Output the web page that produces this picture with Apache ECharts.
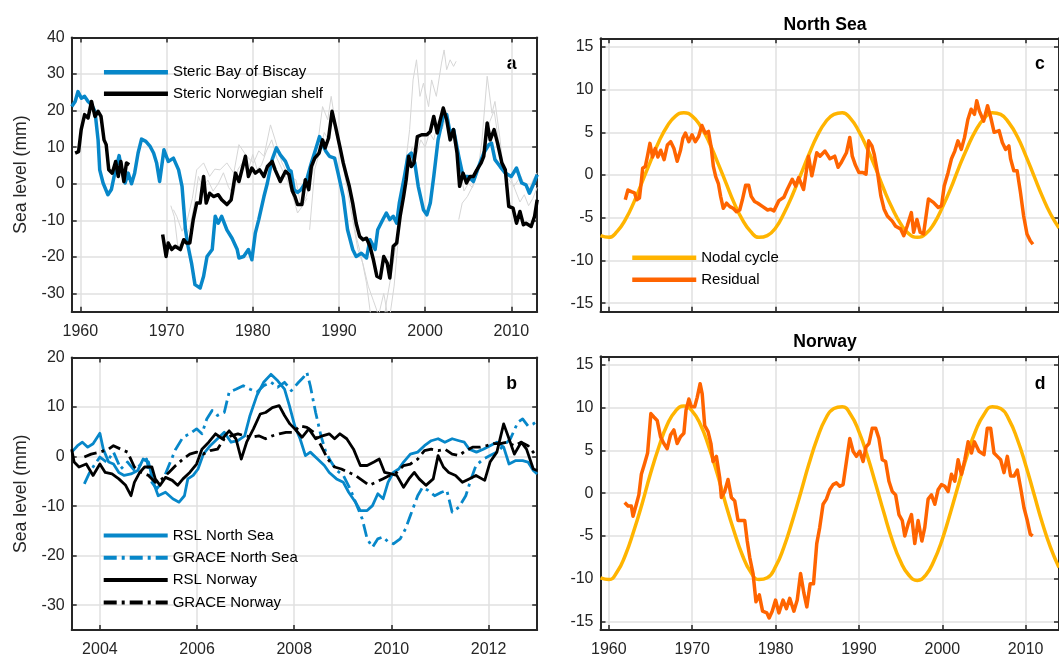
<!DOCTYPE html>
<html>
<head>
<meta charset="utf-8">
<script src="https://cdn.jsdelivr.net/npm/echarts@6/dist/echarts.min.js"></script>
<style>
  html, body { margin: 0; padding: 0; background: #fff; }
  #chart { width: 1059px; height: 658px; }
</style>
</head>
<body>
<div id="chart"></div>
<script>
// ---- data: panel a (steric sea level, mm) ----
var bayOfBiscay = [[1959.0,21.1],[1959.4,22.5],[1959.73,25.2],[1960.12,23.4],[1960.5,23.9],[1960.9,22.5],[1961.3,21.6],[1961.7,19.8],[1962.06,12.0],[1962.25,3.8],[1962.64,0.2],[1963.2,-3.0],[1963.6,-1.6],[1964.0,2.9],[1964.5,7.7],[1964.8,3.8],[1965.2,0.2],[1965.55,2.9],[1965.94,0.0],[1966.3,2.9],[1966.7,8.4],[1967.1,12.2],[1967.6,11.6],[1968.1,10.2],[1968.5,8.4],[1968.85,5.7],[1969.2,0.6],[1969.7,9.3],[1970.2,6.1],[1970.8,7.0],[1971.4,3.8],[1971.8,-0.7],[1972.2,-12.6],[1972.5,-17.1],[1972.9,-21.7],[1973.3,-27.6],[1973.9,-28.5],[1974.3,-25.3],[1974.7,-19.9],[1975.3,-18.0],[1975.65,-8.9],[1976.0,-10.8],[1976.4,-8.9],[1977.0,-12.6],[1977.6,-14.9],[1978.2,-18.0],[1978.4,-20.3],[1978.95,-19.9],[1979.5,-18.0],[1979.9,-20.8],[1980.3,-13.5],[1980.7,-9.8],[1981.3,-3.5],[1981.7,0.2],[1982.25,6.6],[1982.75,9.8],[1983.2,7.9],[1983.8,6.1],[1984.2,3.8],[1984.45,3.4],[1984.8,-1.6],[1985.2,-2.4],[1985.6,-1.6],[1986.2,0.6],[1986.8,5.7],[1987.4,10.2],[1987.75,12.9],[1988.1,10.7],[1988.5,8.8],[1988.9,7.5],[1989.5,7.0],[1989.9,2.9],[1990.5,-3.5],[1991.0,-12.6],[1991.6,-18.0],[1992.0,-19.9],[1992.6,-19.0],[1993.2,-20.3],[1993.6,-15.3],[1994.2,-18.0],[1994.5,-12.6],[1995.1,-9.8],[1995.5,-8.0],[1995.9,-9.8],[1996.3,-8.9],[1996.7,-10.8],[1997.0,-5.3],[1997.6,2.0],[1998.0,7.5],[1998.4,8.4],[1998.8,5.7],[1999.2,-0.7],[1999.8,-7.1],[2000.2,-8.5],[2000.6,-5.3],[2001.0,2.0],[2001.5,12.0],[2002.1,18.4],[2002.5,18.9],[2002.9,13.9],[2003.3,14.8],[2003.9,7.5],[2004.4,2.0],[2005.0,2.0],[2005.6,0.6],[2006.2,4.7],[2006.8,8.4],[2007.4,10.7],[2007.7,11.1],[2008.1,6.6],[2008.7,4.7],[2009.3,2.9],[2010.0,2.0],[2010.6,4.3],[2011.2,0.2],[2011.7,-0.3],[2012.1,-2.6],[2012.5,-0.5],[2013.0,2.5]];
var norwegianShelf = [[1959.4,8.4],[1959.8,8.8],[1960.1,14.8],[1960.5,18.9],[1960.9,18.0],[1961.3,22.5],[1961.7,18.4],[1962.06,19.8],[1962.4,18.4],[1962.75,12.0],[1963.0,10.7],[1963.3,3.8],[1963.7,2.9],[1964.1,6.1],[1964.4,2.0],[1964.7,6.1],[1965.05,0.6],[1965.35,5.7],[1965.67,5.2],[1967.5,null],[1969.55,-13.9],[1969.95,-19.9],[1970.2,-16.2],[1970.6,-18.0],[1971.0,-17.1],[1971.6,-18.0],[1972.0,-15.3],[1972.3,-16.2],[1972.7,-16.2],[1973.1,-9.8],[1973.5,-5.3],[1973.9,-5.3],[1974.3,2.0],[1974.6,-5.3],[1975.0,-2.6],[1975.45,-3.5],[1976.0,-3.0],[1976.4,-4.4],[1977.0,-5.7],[1977.5,-4.4],[1978.0,2.9],[1978.4,0.6],[1978.75,3.8],[1979.15,7.5],[1979.5,2.0],[1979.9,4.3],[1980.3,2.9],[1980.8,3.8],[1981.3,2.0],[1981.7,4.7],[1982.25,6.1],[1982.6,3.8],[1983.2,0.6],[1983.8,3.4],[1984.2,2.5],[1984.6,-2.0],[1984.9,-3.5],[1985.2,-5.7],[1985.7,-5.7],[1986.1,1.1],[1986.5,-1.6],[1986.8,4.7],[1987.2,7.0],[1987.7,8.4],[1988.1,12.0],[1988.4,9.8],[1988.8,12.5],[1989.2,19.8],[1989.6,15.7],[1990.1,10.2],[1990.5,5.7],[1990.9,2.0],[1991.2,-0.7],[1991.6,-5.3],[1992.0,-10.8],[1992.4,-14.4],[1992.8,-15.3],[1993.2,-14.9],[1993.6,-17.1],[1994.0,-20.8],[1994.4,-25.3],[1994.8,-25.8],[1995.2,-19.9],[1995.6,-21.7],[1995.9,-25.8],[1996.3,-17.1],[1996.7,-16.2],[1997.1,-8.9],[1997.5,-3.5],[1997.8,1.1],[1998.1,7.5],[1998.4,4.7],[1998.7,5.7],[1999.1,12.9],[1999.6,13.4],[2000.2,13.4],[2000.6,14.3],[2001.0,18.4],[2001.4,13.9],[2001.7,17.0],[2002.1,20.7],[2002.5,17.5],[2002.9,12.0],[2003.3,14.8],[2003.7,8.4],[2004.0,-0.7],[2004.4,2.9],[2004.8,0.2],[2005.2,2.0],[2005.6,2.0],[2006.0,3.8],[2006.5,5.7],[2006.8,7.5],[2007.2,16.6],[2007.55,12.0],[2008.0,14.8],[2008.4,11.1],[2008.9,5.7],[2009.3,3.8],[2009.7,-6.2],[2010.2,-6.7],[2010.6,-10.8],[2011.0,-7.6],[2011.4,-11.2],[2011.7,-10.8],[2012.3,-11.7],[2012.7,-8.9],[2013.0,-4.4]];
// thin grey lines behind panel a (individual steric series)
var greyA = [[1970.8,-7.1],[1971.2,-9],[1971.8,-13],[1972.4,-10],[1973.0,-4],[1973.5,3.8],[1974.3,5.7],[1975.0,2.0],[1975.6,4],[1976.2,3.8],[1977.0,5.7],[1977.8,2.9],[1978.4,10.7],[1979.3,7.5],[1980.1,5.7],[1980.7,9],[1981.3,7.5],[1982.06,16.1],[1982.6,12.0],[1983.4,5.7],[1984.2,2.0],[1985.0,1.1],[1985.6,-6.2],[1986.2,-3.5],[1987.0,3.8],[1987.7,13.9],[1988.1,21.1],[1988.7,17.5],[1989.1,23.9],[1989.7,14.8],[1990.3,7.5],[1990.9,2.0],[1991.4,-5.3],[1992.0,-14.4],[1992.6,-19.9],[1993.2,-27.2],[1993.6,-34.5],[1994.0,-40],[1994.8,-45],[1995.5,-32.6],[1996.3,-21.7],[1997.1,-8.9],[1997.6,2.9],[1998.2,14.8],[1998.6,28.4],[1999.0,33.9],[1999.4,23.9],[1999.8,27.5],[2000.4,21.1],[2000.75,28.4],[2001.3,23.9],[2001.9,33.0],[2002.2,36.6],[2002.5,31.2],[2002.9,33.9],[2003.3,32.1],[2003.6,33.5]];
var greyB = [[1986.6,-12.6],[1987.2,4],[1987.8,9],[1988.3,14],[1988.8,12],[1989.3,18],[1989.8,12],[1990.4,6],[1991,-2],[1991.6,-10],[1992.2,-18],[1992.8,-22],[1993.4,-28],[1994,-32],[1994.6,-36],[1995.2,-30],[1995.8,-38],[1996.4,-28],[1997,-12],[1997.5,-2],[1998,5],[1998.5,10],[1999,8],[1999.5,12],[2000,10],[2000.5,14],[2001,12],[2001.5,17],[2002,15],[2002.5,19],[2003,14],[2003.5,10],[2004,5],[2004.5,-2],[2005,0],[2005.5,-1],[2006,3],[2006.5,6],[2007,10],[2007.5,17],[2008,20],[2008.5,12],[2009,5],[2009.5,3],[2010,1],[2010.5,-2],[2011,-5],[2011.5,-3],[2012,-6],[2012.5,-4],[2013,-1]];
var greyC = [[2003.9,-9.8],[2004.3,-5.3],[2004.9,-3.5],[2005.5,-0.7],[2006.1,2.9],[2006.6,12],[2007.2,29.4],[2007.75,19.3],[2008.1,22.5],[2008.7,12],[2009.1,2.9],[2009.7,1.1],[2010.3,-0.7],[2011.1,2],[2011.5,0],[2012,-2],[2012.5,1],[2013,3]];
var greyD = [[1970.5,-6],[1970.9,-9],[1971.3,-17],[1972,-16],[1972.7,-12],[1973.2,-6],[1973.7,2],[1974.2,-1],[1974.8,1],[1975.4,-2],[1976,0],[1976.6,3],[1977.2,-1],[1977.8,-3],[1978.3,4],[1978.9,6],[1979.4,3],[1980,8],[1980.5,4],[1981,5],[1981.6,9],[1982.2,12],[1982.8,7],[1983.4,4],[1984,1],[1984.6,-3],[1985.2,-8],[1985.8,-6],[1986.3,-4]];

// ---- data: panel b (RSL vs GRACE, mm) ----
var rslNorthSea = [[2003.42,0.9],[2003.54,2.2],[2003.64,2.9],[2003.75,1.9],[2003.86,2.6],[2004.0,4.7],[2004.07,1.5],[2004.18,-1.1],[2004.28,-1.5],[2004.39,-3.2],[2004.5,-3.8],[2004.64,-3.5],[2004.78,-2.8],[2004.89,-0.5],[2005.0,-1.1],[2005.1,-5.2],[2005.2,-7.9],[2005.35,-7.2],[2005.5,-8.5],[2005.63,-9.2],[2005.74,-7.9],[2005.81,-4.5],[2005.92,-3.8],[2006.02,-2.5],[2006.13,0.5],[2006.27,2.2],[2006.42,3.6],[2006.56,4.9],[2006.7,2.9],[2006.84,3.2],[2006.98,4.2],[2007.09,8.3],[2007.23,12.3],[2007.37,15.0],[2007.52,16.6],[2007.66,15.3],[2007.8,13.6],[2007.9,10.3],[2008.01,6.2],[2008.12,3.6],[2008.23,0.2],[2008.33,0.9],[2008.48,-0.5],[2008.62,-1.8],[2008.72,-3.2],[2008.87,-4.5],[2009.01,-5.2],[2009.12,-7.2],[2009.26,-9.2],[2009.36,-10.9],[2009.5,-10.9],[2009.61,-9.9],[2009.72,-7.5],[2009.83,-8.5],[2009.93,-5.2],[2010.04,-3.2],[2010.15,-2.5],[2010.25,-1.1],[2010.39,0.5],[2010.54,0.9],[2010.68,2.2],[2010.82,3.2],[2010.96,3.6],[2011.1,2.9],[2011.25,3.6],[2011.39,3.2],[2011.5,2.9],[2011.6,1.5],[2011.75,0.9],[2011.89,1.5],[2012.03,2.2],[2012.17,2.9],[2012.31,1.9],[2012.42,-1.5],[2012.56,-0.8],[2012.7,-0.8],[2012.81,-1.1],[2012.92,-2.8],[2013.0,-3.5]];
var graceNorthSea = [[2003.68,-5.5],[2003.79,-3.2],[2003.9,-1.5],[2004.0,-0.1],[2004.14,-1.1],[2004.28,0.9],[2004.43,-2.5],[2004.57,-1.1],[2004.71,-2.8],[2004.85,-1.5],[2004.96,-0.5],[2005.07,-5.2],[2005.17,-6.5],[2005.28,-5.2],[2005.42,-1.8],[2005.56,1.5],[2005.71,3.9],[2005.85,4.6],[2005.99,5.6],[2006.1,4.6],[2006.2,7.6],[2006.31,9.3],[2006.42,8.3],[2006.56,8.9],[2006.66,13.0],[2006.8,13.6],[2006.95,14.3],[2007.09,13.6],[2007.23,13.0],[2007.37,14.3],[2007.52,15.0],[2007.66,14.0],[2007.8,15.0],[2007.94,13.3],[2008.09,15.0],[2008.19,16.0],[2008.26,17.0],[2008.33,14.3],[2008.44,8.9],[2008.55,4.2],[2008.65,0.9],[2008.76,-1.1],[2008.87,-2.8],[2009.01,-3.8],[2009.15,-6.5],[2009.29,-9.9],[2009.4,-12.6],[2009.5,-16.6],[2009.61,-18.3],[2009.72,-16.6],[2009.83,-16.2],[2009.93,-17.2],[2010.04,-17.6],[2010.18,-16.6],[2010.29,-14.6],[2010.39,-11.9],[2010.54,-7.9],[2010.64,-6.2],[2010.75,-6.8],[2010.89,-7.9],[2011.03,-7.2],[2011.14,-6.8],[2011.25,-11.2],[2011.39,-10.2],[2011.53,-7.9],[2011.64,-4.5],[2011.74,-1.8],[2011.89,-0.5],[2012.03,0.2],[2012.17,0.9],[2012.31,2.2],[2012.45,3.6],[2012.6,6.9],[2012.7,7.6],[2012.81,6.2],[2012.92,6.6],[2013.0,7.2]];
var rslNorway = [[2003.42,1.5],[2003.47,-1.1],[2003.57,-2.1],[2003.72,-1.5],[2003.86,-3.8],[2004.0,-1.5],[2004.11,-3.2],[2004.25,-3.5],[2004.39,-4.5],[2004.53,-5.8],[2004.64,-7.9],[2004.71,-5.2],[2004.82,-3.2],[2004.92,-2.1],[2005.07,-2.1],[2005.14,-4.5],[2005.24,-5.8],[2005.35,-4.2],[2005.49,-4.8],[2005.6,-5.8],[2005.71,-4.5],[2005.85,-3.2],[2005.99,-1.5],[2006.1,1.5],[2006.24,2.9],[2006.38,4.6],[2006.52,3.6],[2006.66,5.2],[2006.8,3.6],[2006.91,-0.5],[2007.02,2.9],[2007.16,5.6],[2007.3,8.6],[2007.41,8.9],[2007.55,9.9],[2007.69,10.3],[2007.8,8.3],[2007.91,6.6],[2008.01,5.6],[2008.16,3.9],[2008.3,5.6],[2008.44,3.6],[2008.58,4.2],[2008.72,4.6],[2008.83,3.6],[2008.94,4.6],[2009.08,3.6],[2009.22,1.5],[2009.36,-1.8],[2009.5,-1.8],[2009.64,-1.1],[2009.75,-0.5],[2009.86,-3.2],[2010.0,-3.5],[2010.11,-3.8],[2010.25,-6.2],[2010.36,-4.5],[2010.47,-3.2],[2010.57,-4.5],[2010.71,-5.8],[2010.86,-4.5],[2010.96,0.2],[2011.07,-2.1],[2011.18,-3.2],[2011.32,-3.8],[2011.46,-5.2],[2011.6,-4.5],[2011.74,-3.8],[2011.92,-4.8],[2012.03,-1.1],[2012.17,0.9],[2012.31,6.6],[2012.42,3.6],[2012.53,0.5],[2012.67,2.9],[2012.78,1.5],[2012.92,-2.5],[2013.0,-2.8]];
var graceNorway = [[2003.68,-0.1],[2003.82,0.5],[2004.0,0.9],[2004.18,1.5],[2004.28,2.2],[2004.43,1.5],[2004.57,0.9],[2004.71,-2.1],[2004.85,-3.2],[2005.0,-3.8],[2005.14,-5.2],[2005.28,-4.5],[2005.42,-3.2],[2005.56,-1.8],[2005.71,-0.5],[2005.85,0.5],[2005.99,0.9],[2006.13,0.5],[2006.27,1.2],[2006.42,1.5],[2006.56,3.6],[2006.7,4.2],[2006.84,4.6],[2006.98,4.2],[2007.13,3.9],[2007.27,4.2],[2007.41,3.6],[2007.55,4.2],[2007.69,4.6],[2007.83,4.9],[2007.98,4.9],[2008.12,6.2],[2008.26,5.9],[2008.4,4.9],[2008.55,2.2],[2008.69,-0.5],[2008.83,-2.1],[2008.97,-2.5],[2009.12,-3.2],[2009.26,-3.8],[2009.4,-4.8],[2009.54,-5.8],[2009.68,-5.2],[2009.82,-4.5],[2009.96,-3.8],[2010.11,-3.2],[2010.25,-1.8],[2010.39,-1.5],[2010.54,-0.5],[2010.68,1.2],[2010.82,1.5],[2010.96,1.2],[2011.1,1.5],[2011.25,0.5],[2011.39,0.2],[2011.53,1.2],[2011.67,1.9],[2011.82,1.9],[2011.96,2.2],[2012.1,2.6],[2012.24,2.6],[2012.38,2.9],[2012.53,2.2],[2012.67,2.9],[2012.81,2.2],[2012.95,0.5],[2013.0,-0.1]];

// ---- data: panels c and d (nodal cycle vs residual, mm) ----
var nodalYears = [1959,1960,1961,1962,1963,1964,1965,1966,1967,1968,1969,1970,1971,1972,1973,1974,1975,1976,1977,1978,1979,1980,1981,1982,1983,1984,1985,1986,1987,1988,1989,1990,1991,1992,1993,1994,1995,1996,1997,1998,1999,2000,2001,2002,2003,2004,2005,2006,2007,2008,2009,2010,2011,2012,2013,2014];
var nodalNorthSea = [-7.1,-7.3,-6.6,-5.2,-3.2,-0.8,1.6,3.9,5.7,6.9,7.3,6.9,5.7,3.9,1.6,-0.8,-3.2,-5.2,-6.6,-7.3,-7.1,-6.2,-4.5,-2.4,0.0,2.4,4.6,6.2,7.1,7.3,6.6,5.1,3.1,0.8,-1.7,-3.9,-5.7,-6.9,-7.3,-6.9,-5.7,-3.8,-1.6,0.9,3.2,5.2,6.6,7.3,7.1,6.1,4.5,2.3,-0.1,-2.5,-4.6,-6.2];
var nodalNorway = [-9.9,-10.1,-9.2,-7.2,-4.4,-1.2,2.3,5.4,8.0,9.6,10.2,9.6,8.0,5.4,2.3,-1.2,-4.4,-7.2,-9.2,-10.1,-9.9,-8.6,-6.3,-3.3,0.0,3.4,6.4,8.7,9.9,10.1,9.2,7.2,4.4,1.1,-2.3,-5.5,-8.0,-9.6,-10.2,-9.6,-7.9,-5.4,-2.2,1.2,4.5,7.3,9.2,10.1,9.9,8.6,6.3,3.3,-0.1,-3.5,-6.4,-8.7];
var residualNorthSea = [[1961.97,-2.9],[1962.29,-1.75],[1962.68,-1.95],[1963.08,-2.1],[1963.35,-2.9],[1963.67,-2.7],[1963.87,-1.0],[1964.06,0.8],[1964.38,1.0],[1964.65,2.3],[1964.93,3.7],[1965.25,2.1],[1965.56,3.1],[1965.88,2.1],[1966.23,2.9],[1966.63,1.8],[1967.02,3.5],[1967.42,3.9],[1967.81,3.1],[1968.2,1.6],[1968.6,2.9],[1968.88,4.3],[1969.19,4.9],[1969.59,3.9],[1969.98,4.7],[1970.37,3.9],[1970.77,4.5],[1971.16,5.8],[1971.56,4.9],[1971.95,5.1],[1972.27,3.3],[1972.54,1.0],[1972.82,-0.2],[1973.14,-1.0],[1973.41,-2.5],[1973.73,-3.9],[1974.12,-3.3],[1974.52,-3.7],[1974.91,-3.9],[1975.31,-4.3],[1975.7,-4.1],[1976.02,-2.9],[1976.41,-1.2],[1976.77,-1.2],[1977.08,-2.5],[1977.48,-3.1],[1977.87,-3.3],[1978.46,-3.7],[1979.05,-4.1],[1979.4,-4.0],[1979.8,-4.2],[1980.4,-3.0],[1981.0,-2.6],[1981.4,-1.7],[1982.0,-0.5],[1982.4,-1.3],[1982.77,-0.3],[1983.36,-1.7],[1983.96,2.2],[1984.35,-0.1],[1984.94,2.6],[1985.33,2.2],[1985.93,2.8],[1986.52,1.9],[1987.1,2.2],[1987.5,0.9],[1987.9,1.5],[1988.5,2.6],[1988.9,4.4],[1989.2,2.2],[1989.6,1.1],[1990.0,0.3],[1990.46,0.3],[1990.85,0.1],[1991.17,4.0],[1991.56,3.4],[1991.84,2.4],[1992.23,0.3],[1992.62,-2.4],[1993.02,-4.0],[1993.41,-4.8],[1994.0,-5.4],[1994.4,-6.0],[1994.99,-6.3],[1995.38,-7.1],[1995.78,-6.0],[1996.29,-4.4],[1996.56,-6.7],[1996.96,-5.2],[1997.35,-6.7],[1997.75,-6.9],[1998.34,-2.8],[1998.93,-3.2],[1999.52,-3.8],[1999.91,-3.6],[2000.23,-1.3],[2000.7,0.3],[2001.1,1.9],[2001.5,2.8],[2001.88,4.0],[2002.28,3.0],[2002.67,4.4],[2003.07,6.5],[2003.46,7.7],[2003.86,7.1],[2004.13,8.7],[2004.44,7.5],[2004.96,6.3],[2005.43,8.1],[2005.82,6.7],[2006.22,5.0],[2006.81,5.2],[2007.2,3.8],[2007.6,3.0],[2007.99,3.4],[2008.19,1.9],[2008.58,0.5],[2008.98,0.5],[2009.37,-2.0],[2009.76,-4.8],[2010.16,-6.9],[2010.55,-7.7],[2010.87,-8.1]];
var residualNorway = [[1961.9,-1.1],[1962.3,-1.5],[1962.7,-1.5],[1962.9,-2.7],[1963.3,-1.3],[1963.6,-0.2],[1963.9,2.2],[1964.3,3.5],[1964.65,4.7],[1965.04,9.3],[1965.4,8.9],[1965.8,8.5],[1966.2,6.6],[1966.6,5.8],[1967.0,5.2],[1967.4,6.8],[1967.8,7.4],[1968.2,5.8],[1968.6,6.6],[1969.0,7.0],[1969.26,9.7],[1969.6,11.0],[1969.9,10.1],[1970.3,10.1],[1970.6,11.2],[1970.95,12.8],[1971.2,11.6],[1971.5,7.9],[1971.9,7.2],[1972.25,5.8],[1972.5,3.7],[1972.9,4.3],[1973.3,1.8],[1973.5,-0.5],[1973.9,0.2],[1974.3,1.6],[1974.7,-0.5],[1975.1,-0.9],[1975.5,-3.2],[1975.9,-3.2],[1976.3,-3.2],[1976.6,-5.6],[1976.9,-7.5],[1977.3,-9.4],[1977.65,-12.7],[1978.05,-11.9],[1978.44,-13.8],[1978.95,-14.0],[1979.23,-14.6],[1979.6,-13.8],[1980.0,-12.5],[1980.4,-14.0],[1980.9,-12.5],[1981.3,-13.5],[1981.7,-12.3],[1982.2,-13.8],[1982.6,-12.5],[1983.0,-9.4],[1983.4,-11.7],[1983.75,-13.3],[1984.15,-10.6],[1984.55,-10.6],[1984.94,-5.9],[1985.3,-4.0],[1985.7,-1.3],[1986.1,-0.7],[1986.5,0.4],[1986.9,1.0],[1987.3,1.2],[1987.7,0.8],[1988.1,1.0],[1988.5,3.7],[1988.9,6.4],[1989.3,4.9],[1989.7,4.3],[1990.1,4.9],[1990.5,3.7],[1990.85,5.4],[1991.2,5.8],[1991.6,7.6],[1992.0,7.6],[1992.4,6.4],[1992.8,3.9],[1993.2,3.7],[1993.6,1.4],[1994.0,0.2],[1994.4,-0.2],[1994.8,-2.5],[1995.2,-3.2],[1995.5,-5.0],[1995.9,-3.6],[1996.3,-2.5],[1996.7,-5.9],[1997.1,-3.2],[1997.55,-5.6],[1997.9,-4.0],[1998.3,-0.7],[1998.7,-0.2],[1999.1,-1.3],[1999.5,0.4],[1999.9,1.0],[2000.3,0.8],[2000.7,0.2],[2001.1,2.2],[2001.5,1.4],[2001.9,3.9],[2002.3,2.2],[2002.7,3.9],[2003.1,6.0],[2003.5,4.7],[2003.85,6.0],[2004.4,4.9],[2005.0,4.5],[2005.4,7.6],[2005.8,7.6],[2006.2,4.7],[2006.6,4.3],[2007.0,3.9],[2007.4,2.4],[2007.8,4.3],[2008.2,2.0],[2008.6,2.0],[2009.0,2.7],[2009.4,0.6],[2009.8,-1.7],[2010.2,-3.2],[2010.55,-4.8],[2010.85,-5.0]];

// ---- tick labels ----
var decadeTicks = [1960,1970,1980,1990,2000,2010];
var graceTicks = [2004,2006,2008,2010,2012];
var stericTicks = [-30,-20,-10,0,10,20,30,40];
var graceValueTicks = [-30,-20,-10,0,10,20];
var nodalTicks = [-15,-10,-5,0,5,10,15];

var FONT = 'Liberation Sans, Arial, Helvetica, sans-serif';
var AX = '#262626';
var GRIDLINE = '#e1e1e1';
var BLUE = '#0787c9';
var GOLD = '#ffb400';
var ORANGE = '#ff6400';

function pairs(xs, ys) {
	var out = [];
	for (var i = 0; i < xs.length; i++) out.push([xs[i], ys[i]]);
	return out;
}
function clean(d) {
	return d.map(function (p) { return [p[0], p[1] === null ? '-' : p[1]]; });
}
function plain(v) { return String(v); }

var grids = [
	{left: 71.7, top: 37.5, width: 465.5, height: 274.2},   // a
	{left: 71.7, top: 357.5, width: 465.5, height: 273.2},  // b
	{left: 600.5, top: 38.3, width: 464.8, height: 273.4},  // c
	{left: 600.5, top: 356.3, width: 464.8, height: 274.4}  // d
];

function frameLine() { return {show: true, onZero: false, lineStyle: {color: AX, width: 2}}; }
function tickStyle(vals) { return {show: true, inside: true, length: 5, customValues: vals, lineStyle: {color: AX, width: 1.5}}; }

var xAxes = [], yAxes = [];
function addAxes(gi, xmin, xmax, xt, showX, ymin, ymax, yt, yname) {
	xAxes.push({gridIndex: gi, type: 'value', position: 'bottom', min: xmin, max: xmax,
		axisLine: frameLine(), axisTick: tickStyle(xt),
		axisLabel: {show: showX, customValues: xt, formatter: plain, margin: 12, color: AX, fontSize: 16, fontFamily: FONT},
		splitLine: {show: true, lineStyle: {color: GRIDLINE, width: 1.5}}});
	xAxes.push({gridIndex: gi, type: 'value', position: 'top', min: xmin, max: xmax,
		axisLine: frameLine(), axisTick: tickStyle(xt), axisLabel: {show: false}, splitLine: {show: false}});
	yAxes.push({gridIndex: gi, type: 'value', position: 'left', min: ymin, max: ymax,
		axisLine: frameLine(), axisTick: tickStyle(yt),
		axisLabel: {customValues: yt, formatter: plain, margin: 7, color: AX, fontSize: 16, fontFamily: FONT},
		splitLine: {show: true, lineStyle: {color: GRIDLINE, width: 1.5}},
		name: yname || '', nameLocation: 'middle', nameGap: 42, nameRotate: 90,
		nameTextStyle: {color: AX, fontSize: 17.6, fontFamily: FONT}});
	yAxes.push({gridIndex: gi, type: 'value', position: 'right', min: ymin, max: ymax,
		axisLine: frameLine(), axisTick: tickStyle(yt), axisLabel: {show: false}, splitLine: {show: false}});
}
addAxes(0, 1959, 2013, decadeTicks, true, -35, 40, stericTicks, 'Sea level (mm)');
addAxes(1, 2003.42, 2013, graceTicks, true, -35, 20, graceValueTicks, 'Sea level (mm)');
addAxes(2, 1959, 2014, decadeTicks, false, -16, 16, nodalTicks, '');
addAxes(3, 1959, 2014, decadeTicks, true, -16, 16, nodalTicks, '');

function line(name, data, gi, color, width, dash, extra) {
	var s = {name: name, type: 'line', data: clean(data), xAxisIndex: 2 * gi, yAxisIndex: 2 * gi,
		symbol: 'none', showSymbol: false, clip: true, animation: false,
		lineStyle: {color: color, width: width, type: dash || 'solid', join: 'round', cap: 'butt'},
		itemStyle: {color: color}};
	if (extra) for (var k in extra) s[k] = extra[k];
	return s;
}
var DASHDOT = [13, 5, 3, 5];

var series = [
	line('greyA', greyA, 0, '#d6d6d6', 1, null, {silent: true}),
	line('greyB', greyB, 0, '#d6d6d6', 1, null, {silent: true}),
	line('greyC', greyC, 0, '#d6d6d6', 1, null, {silent: true}),
	line('greyD', greyD, 0, '#d6d6d6', 1, null, {silent: true}),
	line('Steric Bay of Biscay', bayOfBiscay, 0, BLUE, 3.5),
	line('Steric Norwegian shelf', norwegianShelf, 0, '#000', 3.5),
	line('RSL North Sea', rslNorthSea, 1, BLUE, 2.8),
	line('GRACE North Sea', graceNorthSea, 1, BLUE, 2.8, DASHDOT),
	line('RSL Norway', rslNorway, 1, '#000', 2.8),
	line('GRACE Norway', graceNorway, 1, '#000', 2.8, DASHDOT),
	line('Nodal cycle', pairs(nodalYears, nodalNorthSea), 2, GOLD, 3.5, null, {smooth: true}),
	line('Residual', residualNorthSea, 2, ORANGE, 3.5),
	line('Nodal cycle ', pairs(nodalYears, nodalNorway), 3, GOLD, 3.5, null, {smooth: true}),
	line('Residual ', residualNorway, 3, ORANGE, 3.5)
];

function legendBox(names, left, top, gap, lw) {
	return {data: names, orient: 'vertical', left: left, top: top, itemWidth: 64, itemHeight: 14,
		itemGap: gap, selectedMode: false, padding: 0,
		lineStyle: {width: lw}, itemStyle: {opacity: 0, borderWidth: 0},
		textStyle: {color: '#000', fontSize: 15, fontFamily: FONT, lineHeight: 14}};
}

var textStyleBold = function (t, x, y) {
	return {type: 'text', x: x, y: y, silent: true,
		style: {text: t, fill: '#000', font: 'bold 17.6px ' + FONT, textAlign: 'center', textVerticalAlign: 'middle'}};
};

var option = {
	animation: false,
	backgroundColor: '#fff',
	grid: grids,
	xAxis: xAxes,
	yAxis: yAxes,
	legend: [
		legendBox(['Steric Bay of Biscay', 'Steric Norwegian shelf'], 101.7, 64.7, 6.6, 4.5),
		legendBox(['RSL North Sea', 'GRACE North Sea', 'RSL Norway', 'GRACE Norway'], 101.7, 528, 7.3, 4),
		legendBox(['Nodal cycle', 'Residual'], 630, 250.3, 7, 4.5)
	],
	graphic: [
		textStyleBold('North Sea', 825, 25),
		textStyleBold('Norway', 825, 342),
		textStyleBold('a', 511.7, 64),
		textStyleBold('b', 511.7, 383.7),
		textStyleBold('c', 1040, 64.4),
		textStyleBold('d', 1040, 383.7)
	],
	series: series
};

var myChart = echarts.init(document.getElementById('chart'), null, {renderer: 'canvas'});
myChart.setOption(option);
</script>
</body>
</html>
